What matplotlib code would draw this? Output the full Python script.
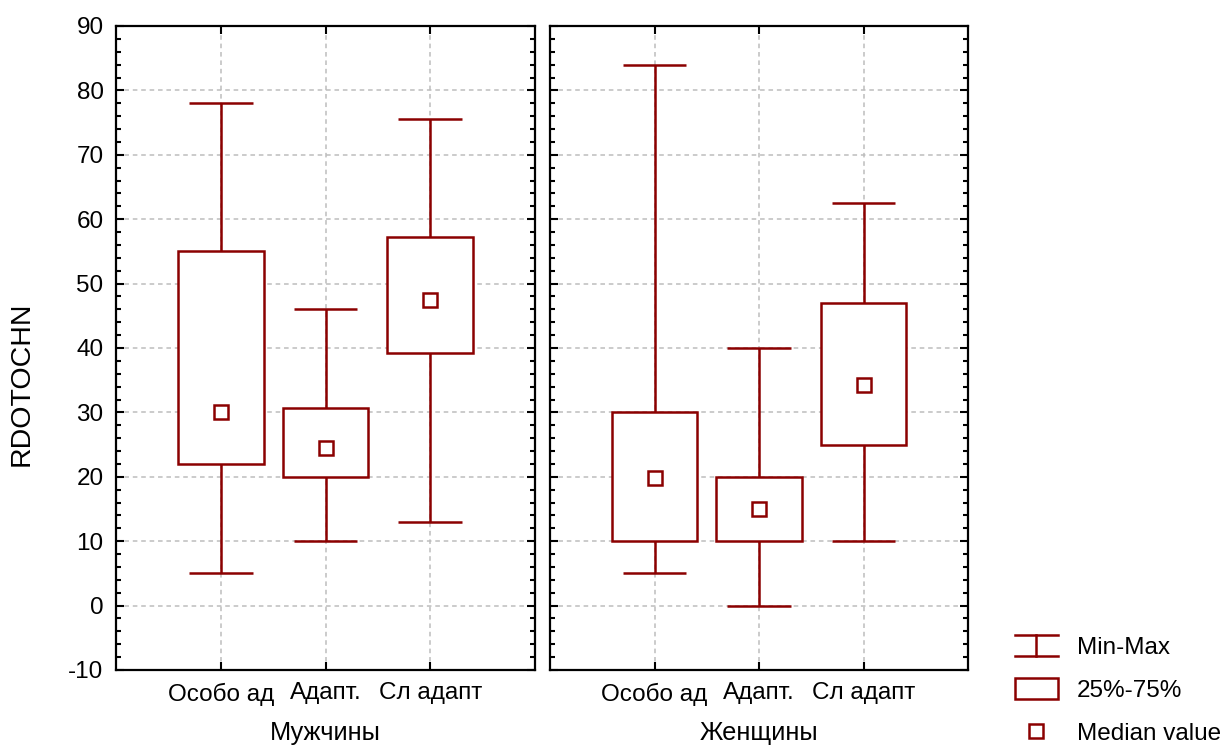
import numpy as np
import matplotlib
matplotlib.use("Agg")
import matplotlib.pyplot as plt
from matplotlib.legend_handler import HandlerBase
from matplotlib.lines import Line2D
from matplotlib.patches import Rectangle
from matplotlib.ticker import MultipleLocator

plt.rcParams["font.family"] = ["Liberation Sans", "DejaVu Sans"]
plt.rcParams["axes.unicode_minus"] = False

# data
categories = ["Особо ад", "Адапт.", "Сл адапт"]
groups = ["Мужчины", "Женщины"]
mins = [[5, 10, 13], [5, 0, 10]]
q1s = [[22, 20, 39.3], [10, 10, 25]]
medians = [[30, 24.5, 47.5], [19.8, 15, 34.2]]
q3s = [[55.1, 30.7, 57.2], [30.1, 20, 47]]
maxs = [[78, 46, 75.5], [84, 40, 62.5]]

red = "#8b0000"
lw = 1.8
fs = 17.5

fig = plt.figure(figsize=(12.26, 7.45), dpi=100)
W, H = 1226, 745
boxes = [(116, 535), (550, 968)]
top, bot = 26, 670

for g, (x0, x1) in enumerate(boxes):
    ax = fig.add_axes([x0 / W, 1 - bot / H, (x1 - x0) / W, (bot - top) / H])
    pos = np.arange(1, len(categories) + 1)
    ax.set_axisbelow(True)
    ax.grid(True, color="#bdbdbd", linestyle=(0, (3, 2.5)), linewidth=1.1)

    lo = np.array(mins[g]); hi = np.array(maxs[g])
    a = np.array(q1s[g]); b = np.array(q3s[g])
    ax.vlines(pos, lo, a, color=red, lw=lw, zorder=3)
    ax.vlines(pos, b, hi, color=red, lw=lw, zorder=3)
    ax.hlines(lo, pos - 0.305, pos + 0.305, color=red, lw=lw, zorder=3)
    ax.hlines(hi, pos - 0.305, pos + 0.305, color=red, lw=lw, zorder=3)
    ax.bar(pos, b - a, bottom=a, width=0.82, facecolor="white",
           edgecolor=red, linewidth=lw, zorder=3)
    ax.plot(pos, medians[g], "s", ms=10.5, mfc="white", mec=red, mew=1.8,
            ls="none", zorder=4)

    ax.set_xlim(0, 4)
    ax.set_ylim(-10, 90)
    ax.set_xticks(pos)
    ax.set_xticklabels(categories)
    ax.yaxis.set_major_locator(MultipleLocator(10))
    ax.yaxis.set_minor_locator(MultipleLocator(2))
    ax.tick_params(which="both", direction="in", top=True, right=True,
                   width=1.5, labelsize=fs)
    ax.tick_params(which="major", length=6)
    ax.tick_params(which="minor", length=3.5)
    ax.tick_params(axis="x", which="major", length=6, pad=9)
    ax.tick_params(axis="y", pad=9)
    if g > 0:
        ax.tick_params(axis="y", labelleft=False)
    for s in ax.spines.values():
        s.set_linewidth(1.6)
    ax.set_xlabel(groups[g], fontsize=18.3, labelpad=11)

fig.text(22 / W, 1 - 384 / H, "RDOTOCHN", rotation=90, ha="center",
         va="center", fontsize=20.5)


def shift(yd, height):
    return yd - 0.2 * height


class MinMaxHandler(HandlerBase):
    def create_artists(self, legend, orig, xd, yd, width, height, fontsize, trans):
        yd = shift(yd, height)
        cx = xd + width / 2
        return [Line2D([xd, xd + width], [yd + height, yd + height], color=red, lw=lw, transform=trans),
                Line2D([xd, xd + width], [yd, yd], color=red, lw=lw, transform=trans),
                Line2D([cx, cx], [yd, yd + height], color=red, lw=lw, transform=trans)]


class BoxHandler(HandlerBase):
    def create_artists(self, legend, orig, xd, yd, width, height, fontsize, trans):
        yd = shift(yd, height)
        return [Rectangle((xd, yd), width, height, facecolor="white",
                          edgecolor=red, lw=lw, transform=trans)]


class MedHandler(HandlerBase):
    def create_artists(self, legend, orig, xd, yd, width, height, fontsize, trans):
        yd = shift(yd, height)
        return [Line2D([xd + width / 2], [yd + height / 2], marker="s", ms=10.5,
                       mfc="white", mec=red, mew=1.8, ls="none", transform=trans)]


h1, h2, h3 = object(), object(), object()
fig.legend([h1, h2, h3], ["Min-Max", "25%-75%", "Median value"],
           handler_map={h1: MinMaxHandler(), h2: BoxHandler(), h3: MedHandler()},
           loc="center left", bbox_to_anchor=(1015 / W, 1 - 690 / H),
           frameon=False, fontsize=fs, borderpad=0, borderaxespad=0,
           handlelength=1.75, handleheight=0.95, handletextpad=0.8,
           labelspacing=0.78)

fig.savefig("out.png", dpi=100)
